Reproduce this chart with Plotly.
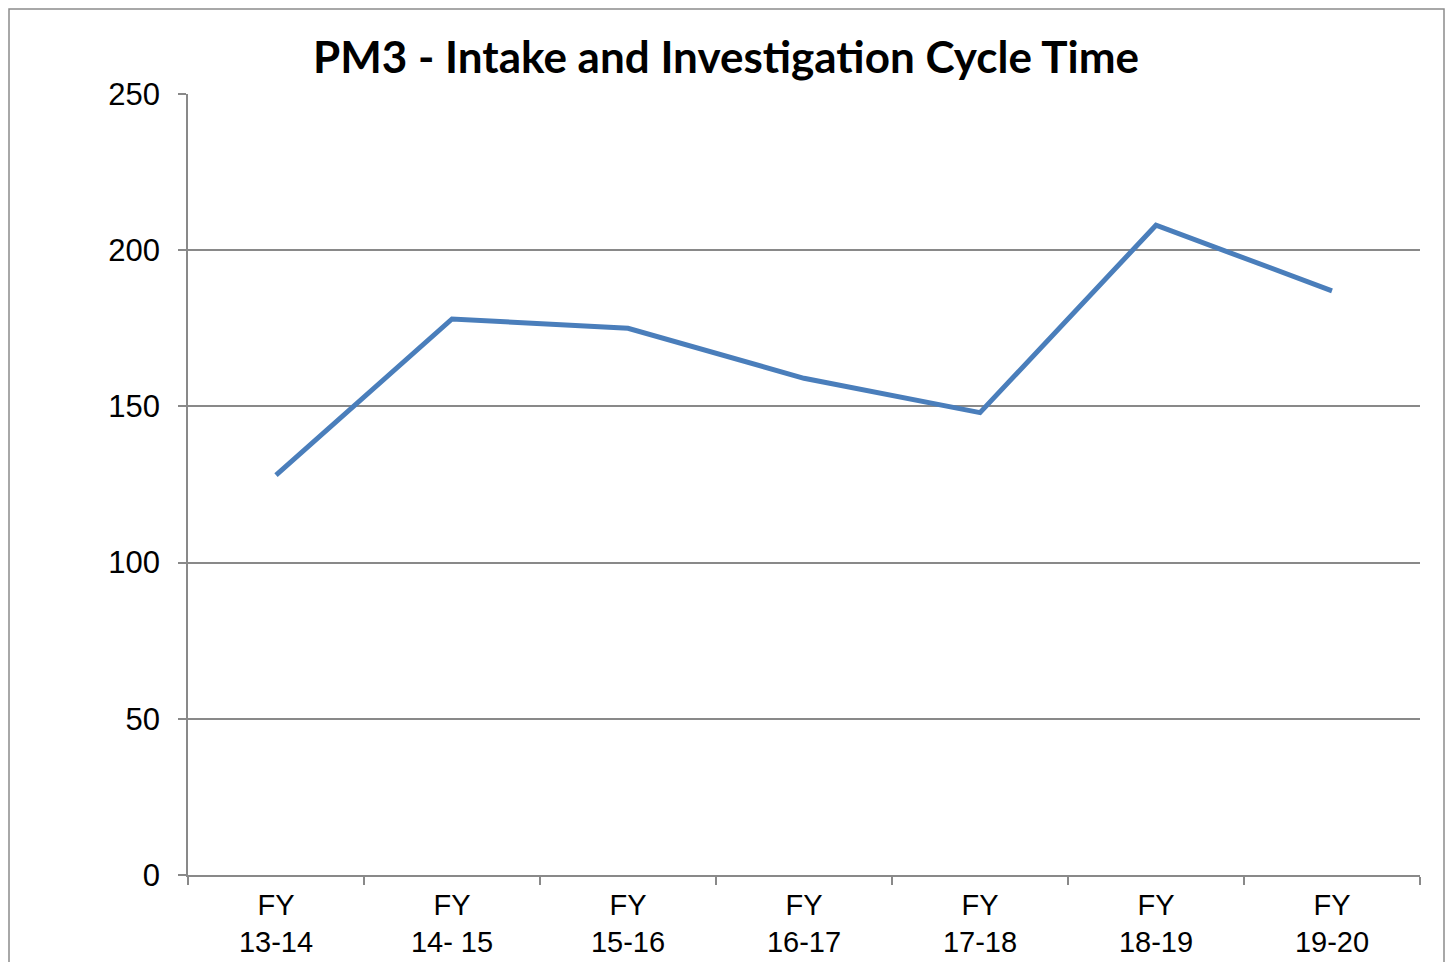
import plotly.graph_objects as go

fiscal_years = ["FY<br>13-14", "FY<br>14- 15", "FY<br>15-16", "FY<br>16-17",
                "FY<br>17-18", "FY<br>18-19", "FY<br>19-20"]
cycle_time = [128, 178, 175, 159, 148, 208, 187]
y_ticks = [0, 50, 100, 150, 200, 250]

# the html body has an 8px margin, so keep the figure inside the window
PAD = 8
W, H = 1453 - 2 * PAD, 970 - 2 * PAD
plot_left, plot_right, plot_top, plot_bottom = 188, 1420, 94, 875
plot_w = plot_right - plot_left
plot_h = plot_bottom - plot_top

fig = go.Figure(
    go.Scatter(
        x=fiscal_years,
        y=cycle_time,
        mode="lines",
        line=dict(color="#4A7EBB", width=5),
        hoverinfo="x+y",
    )
)

grey = "#898989"
fig.update_layout(
    width=W,
    height=H,
    margin=dict(
        l=plot_left - PAD,
        r=PAD + W - plot_right,
        t=plot_top - PAD,
        b=PAD + H - plot_bottom,
    ),
    paper_bgcolor="white",
    plot_bgcolor="white",
    showlegend=False,
    title=dict(
        text="<b>PM3 - Intake and Investigation Cycle Time</b>",
        x=((313 + 1139) / 2 - PAD) / W,
        xanchor="center",
        y=1 - (58 - PAD) / H,
        yanchor="middle",
        font=dict(family="Lato, Open Sans, sans-serif", size=44, color="black"),
    ),
    font=dict(family="Liberation Sans, Arial, sans-serif", size=31, color="black"),
)

fig.update_xaxes(
    type="category",
    automargin=False,
    showgrid=False,
    showline=True,
    linecolor=grey,
    linewidth=1.5,
    ticks="outside",
    tickson="boundaries",
    ticklen=8,
    tickcolor=grey,
    tickwidth=1.5,
    tickfont=dict(size=29),
    ticklabelstandoff=3,
    range=[-0.5, len(fiscal_years) - 0.5],
    fixedrange=True,
)
fig.update_yaxes(
    automargin=False,
    range=[0, 250],
    tickvals=y_ticks,
    showgrid=True,
    gridcolor=grey,
    gridwidth=1.5,
    showline=True,
    linecolor=grey,
    linewidth=1.5,
    ticks="outside",
    ticklen=8,
    tickcolor=grey,
    tickwidth=1.5,
    ticklabelstandoff=12,
    zeroline=False,
    fixedrange=True,
)

# outer chart border (kept just inside the figure)
fig.add_shape(
    type="rect",
    xref="paper", yref="paper",
    x0=(9 - plot_left) / plot_w, x1=(1444 - plot_left) / plot_w,
    y0=-(990 - plot_bottom) / plot_h, y1=(plot_bottom - 9) / plot_h,
    line=dict(color="#8c8c8c", width=1.5),
    fillcolor="rgba(0,0,0,0)",
    layer="below",
)

fig.write_html("out.html")
